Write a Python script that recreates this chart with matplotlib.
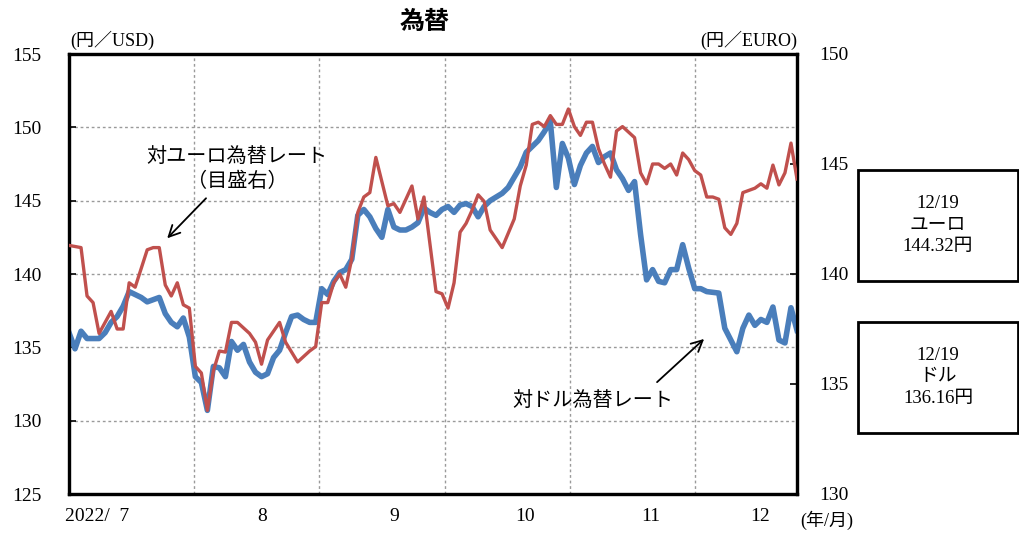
import matplotlib.pyplot as plt
from matplotlib.patches import Rectangle

plt.rcParams['font.family'] = ['Liberation Serif', 'Noto Sans CJK JP']

# business-day index (0 = 2022/7/1) and rates
usd_day = [0, 1, 2, 3, 5, 6, 7, 8, 9, 10, 12, 13, 15, 16, 17, 18, 19, 20, 21, 22,
           23, 24, 25, 26, 27, 28, 29, 30, 31, 32, 33, 34, 35, 36, 37, 38, 39, 40,
           41, 42, 43, 44, 45, 46, 47, 48, 49, 50, 51, 52, 53, 54, 55, 56, 57, 58,
           59, 60, 61, 62, 63, 64, 65, 66, 67, 68, 69, 70, 72, 73, 74, 75, 76, 77,
           78, 79, 80, 81, 82, 83, 84, 85, 86, 87, 88, 89, 90, 91, 92, 93, 94, 95,
           96, 97, 98, 99, 100, 101, 102, 103, 104, 105, 106, 108, 109, 110, 111,
           112, 113, 114, 115, 116, 117, 118, 119, 120, 121]
usd_rate = [136.0, 134.9, 136.1, 135.6, 135.6, 136.0, 136.7, 137.1, 137.8, 138.8,
            138.4, 138.1, 138.4, 137.3, 136.7, 136.4, 137.0, 135.7, 133.0, 132.6,
            130.7, 133.7, 133.6, 133.0, 135.4, 134.8, 135.2, 134.0, 133.3, 133.0,
            133.2, 134.3, 134.8, 136.0, 137.1, 137.2, 136.9, 136.7, 136.7, 139.0,
            138.6, 139.5, 140.1, 140.3, 141.0, 144.0, 144.4, 143.9, 143.1, 142.5,
            144.4, 143.2, 143.0, 143.0, 143.2, 143.5, 144.5, 144.2, 144.0, 144.4,
            144.6, 144.2, 144.7, 144.8, 144.6, 143.9, 144.6, 145.0, 145.5, 145.9,
            146.6, 147.3, 148.3, 148.7, 149.1, 149.7, 150.4, 145.9, 148.9, 147.9,
            146.1, 147.4, 148.25, 148.7, 147.6, 148.0, 148.25, 147.1, 146.5, 145.7,
            146.3, 142.7, 139.6, 140.3, 139.5, 139.4, 140.3, 140.3, 142.0, 140.4,
            139.0, 139.0, 138.8, 138.7, 136.3, 135.5, 134.7, 136.3, 137.2, 136.5,
            136.9, 136.7, 137.75, 135.5, 135.3, 137.7, 136.16]

eur_day = [0, 2, 3, 4, 5, 7, 8, 9, 10, 11, 13, 14, 15, 16, 17, 18, 19, 20, 21, 22,
           23, 24, 25, 26, 27, 28, 30, 31, 32, 33, 35, 36, 38, 40, 41, 42, 43, 44,
           45, 46, 47, 48, 49, 50, 51, 53, 54, 55, 57, 58, 59, 61, 62, 63, 64, 65,
           66, 67, 68, 69, 70, 72, 74, 75, 76, 77, 78, 79, 80, 81, 82, 83, 84, 85,
           86, 87, 88, 89, 90, 91, 92, 93, 94, 95, 96, 97, 98, 99, 100, 101, 102,
           103, 104, 105, 106, 107, 108, 109, 110, 111, 112, 113, 114, 115, 116,
           117, 118, 119, 120, 121]
eur_rate = [141.3, 141.2, 139.0, 138.7, 137.3, 138.3, 137.5, 137.5, 139.6, 139.4,
            141.1, 141.2, 141.2, 139.5, 139.0, 139.6, 138.6, 138.45, 135.8, 135.5,
            133.8, 135.6, 136.5, 136.45, 137.8, 137.8, 137.3, 136.9, 135.9, 137.0,
            137.8, 136.9, 136.0, 136.5, 136.7, 138.7, 138.7, 139.6, 140.0, 139.4,
            140.7, 142.8, 143.5, 143.7, 145.3, 143.1, 143.2, 142.8, 144.0, 142.5,
            143.5, 139.2, 139.1, 138.45, 139.6, 141.9, 142.3, 142.9, 143.6, 143.3,
            142.0, 141.2, 142.5, 144.0, 144.95, 146.8, 146.9, 146.7, 147.2, 146.8,
            146.8, 147.5, 146.7, 146.3, 146.9, 146.9, 145.7, 145.0, 144.4, 146.5,
            146.7, 146.45, 146.2, 144.6, 144.1, 145.0, 145.0, 144.8, 145.0, 144.5,
            145.5, 145.2, 144.7, 144.5, 143.5, 143.5, 143.4, 142.1, 141.8, 142.3,
            143.7, 143.8, 143.9, 144.1, 143.9, 144.95, 144.05, 144.6, 145.95, 144.32]

month_pos = [4.7, 32.1, 54.0, 75.8, 96.7, 114.8]
month_labels = ['2022/  7', '8', '9', '10', '11', '12']
grid_x = [20.8, 41.6, 62.5, 83.3, 104.0]

fig = plt.figure(figsize=(10.2, 5.35), dpi=100)
ax = fig.add_axes([69 / 1020, 41 / 535, 728 / 1020, 440 / 535])
ax2 = ax.twinx()

ax.set_xlim(0, 121)
ax.set_ylim(125, 155)
ax2.set_ylim(130, 150)

for y in [130, 135, 140, 145, 150]:
    ax.axhline(y, color='#9a9a9a', lw=1, ls=(0, (2, 2)), zorder=1)
for x in grid_x:
    ax.axvline(x, color='#9a9a9a', lw=1, ls=(0, (2, 2)), zorder=1)

ax.plot(usd_day, usd_rate, color='#4a7ebb', lw=4.0, zorder=3)
ax2.plot(eur_day, eur_rate, color='#c0504d', lw=2.4, zorder=3)

ax.set_yticks(range(125, 156, 5))
ax2.set_yticks(range(130, 151, 5))
ax.tick_params(axis='y', direction='in', length=5, width=1.2, pad=20, labelsize=14)
ax2.tick_params(axis='y', direction='in', length=5, width=1.2, pad=16, labelsize=14)
ax.set_xticks(month_pos, month_labels)
ax.tick_params(axis='x', length=0, pad=10, labelsize=14)

for a in (ax, ax2):
    for s in a.spines.values():
        s.set_linewidth(2.3)

fig.text(425 / 1020, 1 - 22 / 535, '為替', ha='center', va='center',
         fontsize=18, fontweight='bold', family='Noto Sans CJK JP')
fig.text(70 / 1020, 1 - 40 / 535, '(円／USD)', ha='left', va='center', fontsize=13)
fig.text(797 / 1020, 1 - 40 / 535, '(円／EURO)', ha='right', va='center', fontsize=13)
fig.text(800 / 1020, 1 - 520 / 535, '(年/月)', ha='left', va='center', fontsize=13)

arrow = dict(arrowstyle='->,head_length=0.8,head_width=0.4', color='black', lw=1.3)
ax.annotate('', xy=(16.0, 142.3), xytext=(23.1, 145.3), arrowprops=arrow)
ax.text(27.9, 148.0, '対ユーロ為替レート', ha='center', va='center', fontsize=14.5,
        family='Noto Sans CJK JP')
ax.text(27.9, 146.3, '（目盛右）', ha='center', va='center', fontsize=14.5,
        family='Noto Sans CJK JP')
ax.annotate('', xy=(105.9, 135.7), xytext=(97.4, 132.5), arrowprops=arrow)
ax.text(87.1, 131.4, '対ドル為替レート', ha='center', va='center', fontsize=14.5,
        family='Noto Sans CJK JP')

# latest-value boxes
for top, lines in [(170, ['12/19', 'ユーロ', '144.32円']),
                   (322, ['12/19', 'ドル', '136.16円'])]:
    fig.patches.append(Rectangle((858 / 1020, 1 - (top + 111) / 535), 160 / 1020, 111 / 535,
                                 transform=fig.transFigure, fill=False,
                                 edgecolor='black', lw=2))
    for k, t in enumerate(lines):
        fig.text(938 / 1020, 1 - (top + 33 + 22 * k) / 535, t, ha='center',
                 va='center', fontsize=13.5)

fig.savefig('out.png', dpi=100)
